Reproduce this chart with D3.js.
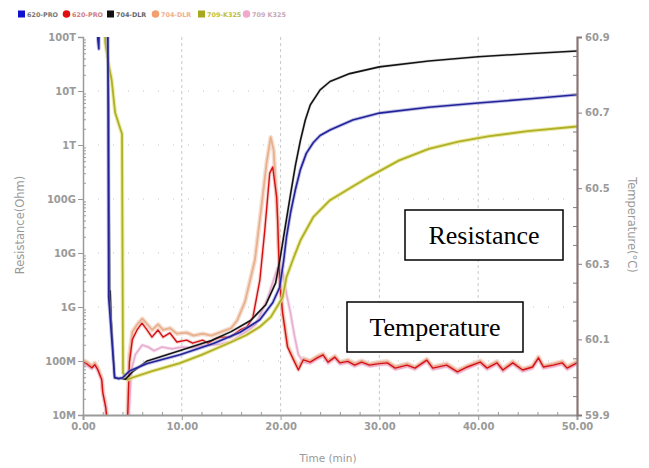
<!DOCTYPE html>
<html>
<head>
<meta charset="utf-8">
<script src="https://cdn.jsdelivr.net/npm/d3@7"></script>
<style>
  body { margin: 0; background: #fff; }
  svg { display: block; }
</style>
</head>
<body>
<div id="chart"></div>
<script>
// Resistance series (time in min, resistance in Ohm)
const blue620 = [[1.45,1e15],[1.5,9e13],[1.6,6e13],[1.7,1e15],[2.5,1e15],[2.6,1.5e9],[3.2,5e7],[3.6,4.7e7],[4.0,4.9e7],[4.7,6.5e7],[6.5,9e7],[9.8,1.3e8],[13.2,2.1e8],[15.9,3.4e8],[17.9,5.8e8],[19.2,1.2e9],[19.9,2.3e9],[20.3,7e9],[20.6,2e10],[21,5.5e10],[21.5,1.5e11],[22,3.5e11],[22.6,7e11],[23.3,1.1e12],[24,1.5e12],[25,1.9e12],[27.3,2.9e12],[30,3.9e12],[35,5e12],[40,6e12],[45,7.1e12],[50,8.5e12]];
const black704 = [[2.4,1e15],[2.6,5e12],[2.7,1.2e9],[2.75,2e9],[2.85,6e8],[3.2,4.8e7],[3.8,4.8e7],[4.3,4.6e7],[5,6.3e7],[6.5,1.0e8],[10,1.6e8],[13,2.4e8],[15,3.5e8],[17,5.7e8],[18.5,1.1e9],[19.5,2.8e9],[20,9e9],[20.5,3.3e10],[21,1.2e11],[21.5,4.2e11],[22,1.2e12],[22.5,2.9e12],[23,5.5e12],[24,1.05e13],[25,1.5e13],[27,2.1e13],[30,2.8e13],[35,3.6e13],[40,4.3e13],[45,4.9e13],[50,5.5e13]];
const olive709 = [[2.1,1e15],[2.25,8e13],[2.6,3e13],[2.9,1.6e13],[3.25,4e12],[3.7,2.2e12],[3.95,1.6e12],[4.05,6e7],[4.5,4.5e7],[5.1,5e7],[7,6.5e7],[9.8,9.1e7],[12,1.3e8],[14.9,2.2e8],[16.5,3e8],[17.9,4.3e8],[19,6.5e8],[20.2,1.5e9],[20.6,3.6e9],[21.3,8e9],[22,1.7e10],[23.3,4.6e10],[25,9.5e10],[27.3,1.7e11],[29,2.6e11],[32,5.2e11],[35,8.5e11],[38,1.15e12],[41,1.45e12],[45,1.8e12],[50,2.2e12]];

// Temperature series (time in min, °C)
const red620 = [[0,60.04],[0.4,60.035],[0.9,60.025],[1.2,60.033],[1.5,60.02],[1.9,59.993],[2.0,59.96],[2.3,59.92],[2.45,59.885],[2.7,59.8],[4.3,59.8],[4.5,59.88],[4.7,60.04],[5.0,60.1],[5.47,60.125],[5.97,60.143],[6.48,60.125],[6.98,60.106],[7.59,60.125],[8.1,60.106],[8.8,60.117],[9.5,60.093],[10.5,60.098],[11.1,60.09],[12.1,60.098],[12.65,60.09],[13.3,60.1],[13.9,60.106],[14.9,60.106],[15.9,60.125],[16.6,60.133],[17.2,60.159],[17.9,60.257],[18.4,60.389],[18.9,60.54],[19.2,60.556],[19.6,60.477],[19.7,60.416],[19.9,60.257],[20.2,60.17],[20.7,60.08],[21.3,60.046],[21.8,60.019],[22.3,60.046],[23,60.04],[23.7,60.051],[24.3,60.059],[24.8,60.04],[25.5,60.053],[26,60.038],[26.8,60.042],[27.5,60.032],[28.2,60.04],[29,60.032],[30,60.036],[30.8,60.038],[31.6,60.024],[32.8,60.032],[33.6,60.024],[34.8,60.045],[35.4,60.024],[36.8,60.032],[37.9,60.014],[38.9,60.027],[40.2,60.04],[40.9,60.024],[41.9,60.038],[42.5,60.019],[43.5,60.038],[44.5,60.019],[45.5,60.027],[46.1,60.051],[46.6,60.027],[47.6,60.032],[48.5,60.038],[49,60.024],[50,60.038]];
const orange704 = [[0,60.045],[0.4,60.04],[0.9,60.03],[1.2,60.038],[1.5,60.025],[1.9,59.998],[2.0,59.965],[2.3,59.925],[2.45,59.89],[2.7,59.8],[4.3,59.8],[4.5,59.9],[4.7,60.06],[5.0,60.12],[5.5,60.14],[6.0,60.155],[6.5,60.14],[7.0,60.125],[7.6,60.14],[8.1,60.125],[8.8,60.13],[9.5,60.115],[10.5,60.118],[11.2,60.11],[12.1,60.115],[13.0,60.11],[14.0,60.12],[15.0,60.13],[15.6,60.15],[16.4,60.2],[17.4,60.31],[18.1,60.46],[18.6,60.57],[19.0,60.635],[19.3,60.6],[19.7,60.42],[19.9,60.27],[20.2,60.175],[20.7,60.085],[21.3,60.05],[21.8,60.024],[22.3,60.05],[23,60.044],[23.7,60.055],[24.3,60.062],[24.8,60.044],[25.5,60.056],[26,60.04],[26.8,60.046],[27.5,60.036],[28.2,60.044],[29,60.035],[30,60.04],[30.8,60.042],[31.6,60.028],[32.8,60.036],[33.6,60.027],[34.8,60.048],[35.4,60.028],[36.8,60.036],[37.9,60.018],[38.9,60.03],[40.2,60.044],[40.9,60.028],[41.9,60.042],[42.5,60.022],[43.5,60.042],[44.5,60.022],[45.5,60.03],[46.1,60.054],[46.6,60.03],[47.6,60.036],[48.5,60.042],[49,60.028],[50,60.042]];
const pink709 = [[0,60.035],[0.4,60.03],[0.9,60.022],[1.2,60.03],[1.5,60.017],[1.9,59.99],[2.0,59.958],[2.3,59.918],[2.45,59.883],[2.7,59.8],[4.4,59.8],[4.6,59.88],[4.9,60.02],[5.3,60.06],[6.0,60.085],[6.6,60.08],[7.2,60.07],[8.0,60.08],[9.0,60.075],[10,60.08],[11,60.078],[12,60.083],[13,60.085],[14,60.088],[15,60.095],[15.9,60.11],[16.8,60.125],[17.5,60.14],[18.2,60.18],[18.7,60.21],[19.2,60.25],[19.7,60.29],[20.2,60.28],[20.6,60.22],[21.0,60.17],[21.4,60.11],[21.8,60.06],[22.3,60.04],[23,60.036],[23.7,60.047],[24.3,60.055],[24.8,60.036],[25.5,60.049],[26,60.034],[26.8,60.038],[27.5,60.028],[28.2,60.036],[29,60.028],[30,60.032],[30.8,60.034],[31.6,60.02],[32.8,60.028],[33.6,60.02],[34.8,60.041],[35.4,60.02],[36.8,60.028],[37.9,60.01],[38.9,60.023],[40.2,60.036],[40.9,60.02],[41.9,60.034],[42.5,60.015],[43.5,60.034],[44.5,60.015],[45.5,60.023],[46.1,60.047],[46.6,60.023],[47.6,60.028],[48.5,60.034],[49,60.02],[50,60.034]];

// Ticks and labels
const timeTicks = [0, 10, 20, 30, 40, 50];
const resTicks = [1e7, 1e8, 1e9, 1e10, 1e11, 1e12, 1e13, 1e14];
const resTickLabels = ["10M", "100M", "1G", "10G", "100G", "1T", "10T", "100T"];
const tempTicks = [59.9, 60.1, 60.3, 60.5, 60.7, 60.9];
const legendLabels = ["620-PRO", "620-PRO", "704-DLR", "704-DLR", "709-K325", "709 K325"];
const legendColors = ["#1010d0", "#e01010", "#111111", "#f2a070", "#a8a820", "#f0a8cc"];
const legendText = ["#777", "#d08080", "#666", "#f0b090", "#c0c040", "#c8a8b8"];
const legendShapes = ["square", "circle", "square", "circle", "square", "circle"];

const W = 649, H = 468;
const L = 83, R = 577, T = 37, B = 415;

const svg = d3.select("#chart").append("svg")
    .attr("width", W)
    .attr("height", H)
    .style("font-family", "'DejaVu Sans', Verdana, sans-serif");

const x = d3.scaleLinear().domain([0, 50]).range([L, R]);
const yR = d3.scaleLog().domain([1e7, 1e14]).range([B, T]);
const yT = d3.scaleLinear().domain([59.9, 60.9]).range([B, T]);

svg.append("clipPath").attr("id", "plot")
    .append("rect").attr("x", L).attr("y", T).attr("width", R - L).attr("height", B - T);

// grid
const grid = svg.append("g");
grid.selectAll(".vg").data(timeTicks.slice(1, -1)).enter().append("line")
    .attr("x1", d => x(d)).attr("x2", d => x(d))
    .attr("y1", T).attr("y2", B)
    .attr("stroke", "#c8c8c8").attr("stroke-dasharray", "3,3");
grid.selectAll(".hg").data(resTicks.slice(1, -1)).enter().append("line")
    .attr("x1", L).attr("x2", R)
    .attr("y1", d => yR(d)).attr("y2", d => yR(d))
    .attr("stroke", "#c4c4c4").attr("stroke-dasharray", "1,14");

// lines
const plot = svg.append("g").attr("clip-path", "url(#plot)");
const lineR = d3.line().x(d => x(d[0])).y(d => yR(d[1]));
const lineT = d3.line().x(d => x(d[0])).y(d => yT(d[1]));

function drawLine(data, gen, color, w, halo, hw, ho) {
    plot.append("path").datum(data).attr("d", gen)
        .attr("fill", "none").attr("stroke", halo).attr("stroke-width", hw)
        .attr("stroke-opacity", ho).attr("stroke-linejoin", "round");
    plot.append("path").datum(data).attr("d", gen)
        .attr("fill", "none").attr("stroke", color).attr("stroke-width", w)
        .attr("stroke-linejoin", "round");
}

drawLine(orange704, lineT, "#e8b08c", 1.8, "#f2d6c6", 4.5, 0.8);
drawLine(pink709, lineT, "#e8aed0", 1.6, "#f3d6e8", 3.5, 0.7);
drawLine(red620, lineT, "#d41010", 1.4, "#f0a8a8", 3.5, 0.5);
drawLine(olive709, lineR, "#b0b028", 1.8, "#e6e690", 4, 0.8);
drawLine(black704, lineR, "#141414", 1.6, "#999", 3, 0.3);
drawLine(blue620, lineR, "#22229a", 1.6, "#9a9ad6", 3.5, 0.6);

// axes
const tickStyle = g => {
    g.selectAll("text").attr("fill", "#9a9a9a").style("font-size", "10px")
        .style("font-weight", "bold").style("font-family", "'DejaVu Sans', Verdana, sans-serif");
    g.selectAll("line").attr("stroke", "#9a9a9a");
};

const minorR = yR.ticks().filter(d => resTicks.indexOf(d) < 0);
svg.append("g").attr("transform", `translate(${L},0)`)
    .call(d3.axisRight(yR).tickValues(minorR).tickSize(3).tickFormat(""))
    .call(g => g.select(".domain").remove())
    .call(tickStyle);
svg.append("g").attr("transform", `translate(${L},0)`)
    .call(d3.axisLeft(yR).tickValues(resTicks).tickSize(5).tickPadding(2)
        .tickFormat((d, i) => resTickLabels[i]))
    .call(g => g.select(".domain").attr("stroke", "#9a9a9a").attr("stroke-width", 1.5))
    .call(tickStyle);

const minorX = d3.range(0, 51, 2).filter(d => d % 10 !== 0);
svg.append("g").attr("transform", `translate(0,${B})`)
    .call(d3.axisTop(x).tickValues(minorX).tickSize(3).tickFormat(""))
    .call(g => g.select(".domain").remove())
    .call(tickStyle);
svg.append("g").attr("transform", `translate(0,${B})`)
    .call(d3.axisBottom(x).tickValues(timeTicks).tickSize(5).tickPadding(3)
        .tickFormat(d3.format(".2f")))
    .call(g => g.select(".domain").attr("stroke", "#9a9a9a").attr("stroke-width", 2))
    .call(tickStyle);

const minorT = d3.range(0, 21).map(i => 59.9 + i * 0.05).filter((d, i) => i % 4 !== 0);
svg.append("g").attr("transform", `translate(${R},0)`)
    .call(d3.axisLeft(yT).tickValues(minorT).tickSize(4).tickFormat(""))
    .call(g => g.select(".domain").remove())
    .call(tickStyle)
    .call(g => g.selectAll("line").attr("stroke", "#8a7a7a"));
svg.append("g").attr("transform", `translate(${R},0)`)
    .call(d3.axisRight(yT).tickValues(tempTicks).tickSize(5).tickPadding(3)
        .tickFormat(d3.format(".1f")))
    .call(g => g.select(".domain").attr("stroke", "#8a7676").attr("stroke-width", 2.2))
    .call(tickStyle)
    .call(g => g.selectAll("line").attr("stroke", "#8a7676"));

// axis titles
svg.append("text")
    .attr("transform", "translate(24,225) rotate(-90)")
    .attr("text-anchor", "middle")
    .attr("fill", "#999").style("font-size", "11.5px")
    .text("Resistance(Ohm)");
svg.append("text")
    .attr("transform", "translate(628,225) rotate(90)")
    .attr("text-anchor", "middle")
    .attr("fill", "#999").style("font-size", "11.5px")
    .text("Temperature(°C)");
svg.append("text")
    .attr("x", 328).attr("y", 462)
    .attr("text-anchor", "middle")
    .attr("fill", "#999").style("font-size", "10.5px")
    .text("Time (min)");

// annotation boxes
const boxes = [
    { label: "Resistance", x: 405, y: 210, w: 158, h: 50 },
    { label: "Temperature", x: 347, y: 302, w: 176, h: 50 }
];
boxes.forEach(b => {
    svg.append("rect").attr("x", b.x).attr("y", b.y).attr("width", b.w).attr("height", b.h)
        .attr("fill", "#fff").attr("stroke", "#000").attr("stroke-width", 1.5);
    svg.append("text").attr("x", b.x + b.w / 2).attr("y", b.y + 34)
        .attr("text-anchor", "middle")
        .style("font-family", "'Liberation Serif', 'Times New Roman', serif")
        .style("font-size", "26px").attr("fill", "#000")
        .text(b.label);
});

// legend
const legendX = [18, 63, 107, 152, 198, 243];
const leg = svg.append("g").attr("transform", "translate(0,14)");
legendLabels.forEach((lab, i) => {
    const g = leg.append("g").attr("transform", `translate(${legendX[i]},0)`);
    if (legendShapes[i] === "square") {
        g.append("rect").attr("x", 0).attr("y", -3.5).attr("width", 7).attr("height", 7)
            .attr("fill", legendColors[i]);
    } else {
        g.append("circle").attr("cx", 3.5).attr("cy", 0).attr("r", 3.8)
            .attr("fill", legendColors[i]);
    }
    g.append("text").attr("x", 9).attr("y", 2.5)
        .attr("fill", legendText[i]).style("font-size", "6.4px").style("font-weight", "bold")
        .text(lab);
});
</script>
</body>
</html>
